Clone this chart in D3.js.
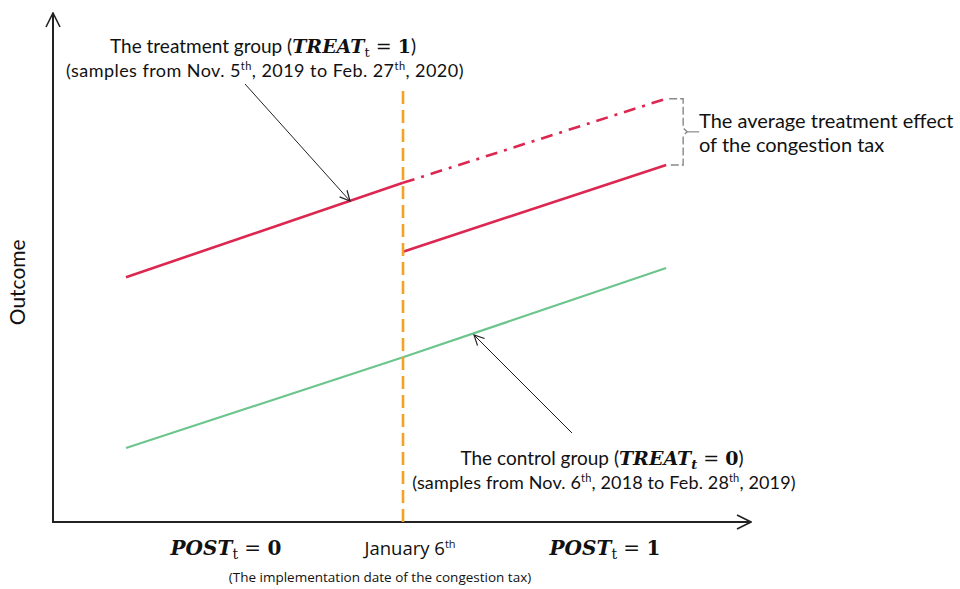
<!DOCTYPE html>
<html>
<head>
<meta charset="utf-8">
<script src="https://cdn.jsdelivr.net/npm/d3@7"></script>
<style>
  body { margin: 0; background: #fff; }
  svg { display: block; }
  .lbl { font-family: Lato, "Open Sans", sans-serif; fill: #111; }
  .math { font-family: "DejaVu Serif", "Liberation Serif", serif; font-weight: bold; font-style: italic; }
  .up { font-family: "DejaVu Serif", "Liberation Serif", serif; font-weight: normal; font-style: normal; }
</style>
</head>
<body>
<svg width="960" height="589"></svg>
<script>
// periods: 0 = start of sample, 1 = January 6th (cut-off), 1.95 = end of sample
var periods = [0, 1, 1.95];
var treatPre = [48, 66.5];            // treatment group before the tax
var treatCounterfactual = [66.5, 83]; // dash-dot continuation
var treatPost = [53, 70];             // treatment group after the tax
var control = [14.5, 32.3, 49.8];     // control group, whole period

var svg = d3.select("svg");
var x = d3.scaleLinear().domain([0, 1]).range([126, 403]);
var y = d3.scaleLinear().domain([0, 100]).range([522, 12]);

var red = "#dc2750", green = "#6cc58c", orange = "#f4a223";

var defs = svg.append("defs");
defs.append("marker").attr("id", "open").attr("viewBox", "0 0 12 12")
    .attr("refX", 11).attr("refY", 6).attr("markerWidth", 12).attr("markerHeight", 12)
    .attr("markerUnits", "userSpaceOnUse").attr("orient", "auto")
  .append("path").attr("d", "M1,1 L11,6 L1,11").attr("fill", "none")
    .attr("stroke", "#222").attr("stroke-width", 1.2);
defs.append("marker").attr("id", "axisArrow").attr("viewBox", "0 0 16 16")
    .attr("refX", 15).attr("refY", 8).attr("markerWidth", 16).attr("markerHeight", 16)
    .attr("markerUnits", "userSpaceOnUse").attr("orient", "auto")
  .append("path").attr("d", "M1,1 L15,8 L1,15").attr("fill", "none")
    .attr("stroke", "#222").attr("stroke-width", 1.6);

// axes
var x0 = x.invert(53), x1 = x.invert(751);
svg.append("line").attr("x1", x(x0)).attr("y1", y(0)).attr("x2", x(x0)).attr("y2", y(100) + 1)
   .attr("stroke", "#222").attr("stroke-width", 2).attr("marker-end", "url(#axisArrow)");
svg.append("line").attr("x1", x(x0) - 1).attr("y1", y(0)).attr("x2", x(x1)).attr("y2", y(0))
   .attr("stroke", "#222").attr("stroke-width", 2).attr("marker-end", "url(#axisArrow)");

var line = d3.line().x(function(d) { return x(d[0]); }).y(function(d) { return y(d[1]); });

// control group
svg.append("path").datum(d3.zip(periods, control)).attr("d", line)
   .attr("fill", "none").attr("stroke", green).attr("stroke-width", 2.2);

// treatment group
svg.append("path").datum(d3.zip(periods.slice(0, 2), treatPre)).attr("d", line)
   .attr("fill", "none").attr("stroke", red).attr("stroke-width", 2.6);
svg.append("path").datum(d3.zip(periods.slice(1), treatCounterfactual)).attr("d", line)
   .attr("fill", "none").attr("stroke", red).attr("stroke-width", 2.6)
   .attr("stroke-dasharray", "12,7,3,7");
svg.append("path").datum(d3.zip(periods.slice(1), treatPost)).attr("d", line)
   .attr("fill", "none").attr("stroke", red).attr("stroke-width", 2.6);

// cut-off date
svg.append("line").attr("x1", x(1)).attr("x2", x(1)).attr("y1", y(84.5)).attr("y2", y(-0.6))
   .attr("stroke", orange).attr("stroke-width", 2.6).attr("stroke-dasharray", "13,6");

// bracket for the effect
var bx = x(periods[2]) + 3, by0 = y(treatCounterfactual[1]), by1 = y(treatPost[1]);
var bm = (by0 + by1) / 2;
svg.append("path")
   .attr("d", "M" + bx + "," + by0 + " H" + (bx + 14) + " V" + (bm - 4) + " L" + (bx + 18) + "," + bm +
              " L" + (bx + 14) + "," + (bm + 4) + " V" + by1 + " H" + bx)
   .attr("fill", "none").attr("stroke", "#888").attr("stroke-width", 1.4).attr("stroke-dasharray", "8,3");
svg.append("line").attr("x1", bx + 18).attr("y1", bm).attr("x2", bx + 30).attr("y2", bm)
   .attr("stroke", "#888").attr("stroke-width", 1.2);

// annotation arrows
svg.append("line").attr("x1", 245).attr("y1", 84).attr("x2", 350).attr("y2", 201)
   .attr("stroke", "#222").attr("stroke-width", 1).attr("marker-end", "url(#open)");
svg.append("line").attr("x1", 572).attr("y1", 433).attr("x2", 474).attr("y2", 335)
   .attr("stroke", "#222").attr("stroke-width", 1).attr("marker-end", "url(#open)");

// texts
function groupTitle(cx, cy, label, italicSub, val) {
  var t = svg.append("text").attr("class", "lbl").attr("x", cx).attr("y", cy)
    .attr("text-anchor", "middle").style("font-size", "19px");
  t.append("tspan").text(label + " (");
  t.append("tspan").attr("class", "math").text("TREAT");
  t.append("tspan").attr("class", italicSub ? "math" : "up").attr("dy", 4).style("font-size", "13px").text("t");
  t.append("tspan").attr("class", "up").attr("dy", -4).text(" = ");
  t.append("tspan").attr("class", "up").style("font-weight", "bold").text(val);
  t.append("tspan").text(")");
}
function samples(cx, cy, spacing, a, b) {
  var t = svg.append("text").attr("class", "lbl").attr("x", cx).attr("y", cy)
    .attr("text-anchor", "middle").style("font-size", "18px").style("letter-spacing", spacing + "px");
  t.append("tspan").text("(samples from " + a[0]);
  t.append("tspan").attr("dy", -7).style("font-size", "11px").text(a[1]);
  t.append("tspan").attr("dy", 7).text(", " + a[2] + " to " + b[0]);
  t.append("tspan").attr("dy", -7).style("font-size", "11px").text(b[1]);
  t.append("tspan").attr("dy", 7).text(", " + b[2] + ")");
}
groupTitle(263, 53, "The treatment group", false, "1");
samples(265, 77, 0.45, ["Nov. 5", "th", "2019"], ["Feb. 27", "th", "2020"]);
groupTitle(602, 465, "The control group", true, "0");
samples(604, 489, 0.15, ["Nov. 6", "th", "2018"], ["Feb. 28", "th", "2019"]);

var eff = svg.append("text").attr("class", "lbl").style("font-size", "20px");
eff.append("tspan").attr("x", 699).attr("y", 128).text("The average treatment effect");
eff.append("tspan").attr("x", 699).attr("y", 152).text("of the congestion tax");

svg.append("text").attr("class", "lbl").attr("transform", "translate(25," + y(47) + ") rotate(-90)")
   .attr("text-anchor", "middle").style("font-size", "21px").text("Outcome");

function postLabel(cx, val) {
  var t = svg.append("text").attr("x", cx).attr("y", 555).attr("text-anchor", "middle")
    .style("font-size", "20px").style("fill", "#111");
  t.append("tspan").attr("class", "math").text("POST");
  t.append("tspan").attr("class", "up").attr("dy", 4).style("font-size", "14px").text("t");
  t.append("tspan").attr("class", "up").attr("dy", -4).text(" = ");
  t.append("tspan").attr("class", "up").style("font-weight", "bold").text(val);
}
postLabel(226, "0");
postLabel(605, "1");

var jan = svg.append("text").attr("x", 410).attr("y", 555).attr("text-anchor", "middle")
  .style("font-family", "'Open Sans', 'Noto Sans', sans-serif").style("font-size", "18.5px").style("fill", "#111");
jan.append("tspan").text("January 6");
jan.append("tspan").attr("dy", -7).style("font-size", "11px").text("th");

svg.append("text").attr("x", 380).attr("y", 582).attr("text-anchor", "middle")
  .style("font-family", "'Open Sans', 'Noto Sans', sans-serif").style("font-size", "13.5px").style("fill", "#111")
  .text("(The implementation date of the congestion tax)");
</script>
</body>
</html>
